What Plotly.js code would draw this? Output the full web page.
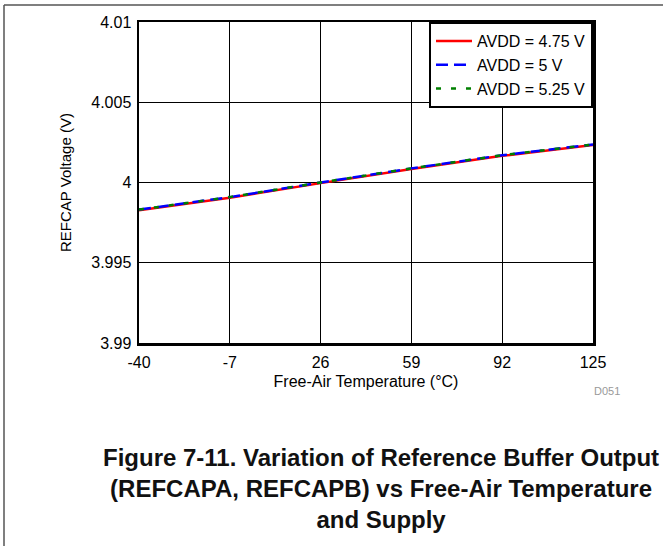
<!DOCTYPE html>
<html>
<head>
<meta charset="utf-8">
<script src="https://cdn.plot.ly/plotly-3.0.1.min.js"></script>
<style>
  html, body { margin: 0; padding: 0; background: #fff; }
  #chart { width: 663px; height: 546px; }
</style>
</head>
<body>
<div id="chart"></div>
<script>
// Data
const temperature = [-40, -7, 26, 59, 92, 125];
const avdd475 = [3.99827, 3.99905, 3.99996, 4.00084, 4.00166, 4.00233];
const avdd500 = [3.99831, 3.99909, 4.00000, 4.00088, 4.00170, 4.00237];
const avdd525 = [3.99831, 3.99909, 4.00000, 4.00088, 4.00170, 4.00237];
const seriesNames = ['AVDD = 4.75 V', 'AVDD = 5 V', 'AVDD = 5.25 V'];
const xTicks = [-40, -7, 26, 59, 92, 125];
const yTicks = [3.99, 3.995, 4, 4.005, 4.01];
const yTickText = ['3.99', '3.995', '4', '4.005', '4.01'];

const W = 663, H = 546;
const L = 139, R = 593, T = 22, B = 343;
const px = x => (x - L) / (R - L);
const py = y => (B - y) / (B - T);

const font = '"Liberation Sans", Arial, sans-serif';

const traces = [
  { x: temperature, y: avdd475, name: seriesNames[0], mode: 'lines',
    line: { color: '#ff0000', width: 2.5 } },
  { x: temperature, y: avdd500, name: seriesNames[1], mode: 'lines',
    line: { color: '#0000ff', width: 2.5, dash: '12px,6px' } },
  { x: temperature, y: avdd525, name: seriesNames[2], mode: 'lines',
    line: { color: '#008000', width: 2.5, dash: '5px,10px' } }
];

const axisCommon = {
  showline: true, mirror: true, linecolor: '#000', linewidth: 2.5,
  showgrid: true, gridcolor: '#000', gridwidth: 1,
  zeroline: false, ticks: '',
  tickfont: { family: font, size: 16, color: '#000' }
};

const layout = {
  width: W, height: H,
  margin: { l: L, r: W - R, t: T, b: H - B },
  paper_bgcolor: '#fff', plot_bgcolor: '#fff',
  showlegend: true,
  legend: {
    x: 1, y: 1, xanchor: 'right', yanchor: 'top',
    bordercolor: '#000', borderwidth: 2, bgcolor: '#fff',
    font: { family: font, size: 16, color: '#000' },
    tracegroupgap: 0, itemwidth: 36
  },
  xaxis: Object.assign({}, axisCommon, {
    range: [-40, 125], tickvals: xTicks, ticktext: xTicks.map(String),
    ticklabelstandoff: 3,
    title: { text: 'Free-Air Temperature (°C)', font: { family: font, size: 16, color: '#000' }, standoff: 6 }
  }),
  yaxis: Object.assign({}, axisCommon, {
    range: [3.99, 4.01], tickvals: yTicks, ticktext: yTickText,
    ticklabelstandoff: 2,
    title: { text: 'REFCAP Voltage (V)', font: { family: font, size: 15, color: '#000' }, standoff: 16 }
  }),
  annotations: [
    { xref: 'paper', yref: 'paper', x: px(607), y: py(391), xanchor: 'center', yanchor: 'middle',
      text: 'D051', showarrow: false, font: { family: font, size: 11, color: '#999' } },
    { xref: 'paper', yref: 'paper', x: px(381), y: py(488), xanchor: 'center', yanchor: 'middle',
      text: '<b>Figure 7-11. Variation of Reference Buffer Output<br>(REFCAPA, REFCAPB) vs Free-Air Temperature<br>and Supply</b>',
      showarrow: false, align: 'center',
      font: { family: font, size: 24, color: '#111' } }
  ],
  shapes: [
    { type: 'line', xref: 'paper', yref: 'paper', x0: px(4), x1: px(4), y0: py(5), y1: py(546),
      line: { color: '#555', width: 1.5 } },
    { type: 'line', xref: 'paper', yref: 'paper', x0: px(4), x1: px(663), y0: py(5), y1: py(5),
      line: { color: '#555', width: 1.5 } }
  ]
};

Plotly.newPlot('chart', traces, layout, { displayModeBar: false, staticPlot: true });
</script>
</body>
</html>
